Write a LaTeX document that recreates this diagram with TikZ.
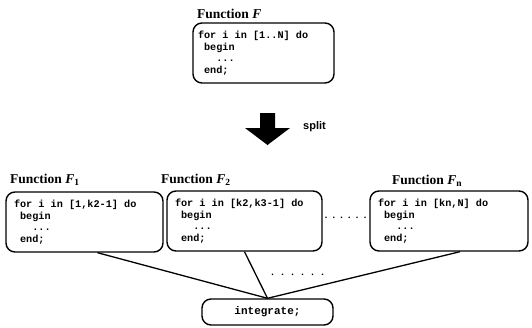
\documentclass[tikz,border=0pt]{standalone}
\usepackage{fontspec}
\setmainfont{Liberation Serif}
\setsansfont{Liberation Sans}
\setmonofont{Liberation Mono}
\usetikzlibrary{positioning}
\tikzset{
  codebox/.style={draw, line width=1.4pt, rounded corners=9pt, text width=#1, minimum height=60pt, inner xsep=8pt, align=left, font=\ttfamily\bfseries\fontsize{10.2}{11.5}\selectfont},
  funcname/.style={anchor=base west, inner sep=0pt, font=\bfseries\fontsize{13.5}{15}\selectfont},
  joinbox/.style={draw, line width=1.4pt, rounded corners=9pt, minimum width=131pt, minimum height=26pt, font=\ttfamily\bfseries\fontsize{11}{13}\selectfont},
  link/.style={line width=1.3pt},
  gap/.style={inner sep=0pt, font=\bfseries\fontsize{10}{12}\selectfont}
}
\newcommand{\tsp}{\phantom{x}}
\newcommand{\dotrow}[1]{.\foreach \k in {1,...,5}{\hspace{#1}.}}

\begin{document}
\begin{tikzpicture}[x=1pt,y=-1pt]
  \useasboundingbox (0,0) rectangle (532,327);
  % original function
  \node[funcname] (titleF) at (197,18) {Function \textit{F}};
  \node[codebox=131pt, inner xsep=5pt] (F) at (263.5,53) {for\tsp i\tsp in\tsp [1..N]\tsp do\\ \tsp begin\\ \tsp\tsp\tsp ...\\ \tsp end;};
  % split arrow
  \coordinate (splitarrow) at (267.5,113);
  \fill (splitarrow) ++(-7.5,0) -- ++(15,0) -- ++(0,15) -- ++(15,0) -- ++(-22.5,17) -- ++(-22.5,-17) -- ++(15,0) -- cycle;
  \node[anchor=west, inner sep=0pt, font=\sffamily\bfseries\fontsize{11}{13}\selectfont] (split) at (303,127) {split};
  % split functions
  \node[funcname] (titleF1) at (10,183) {Function \textit{F}\textsubscript{1}};
  \node[funcname] (titleF2) at (161,183) {Function \textit{F}\textsubscript{2}};
  \node[funcname] (titleFn) at (392,184) {Function \textit{F}\textsubscript{n}};
  \node[codebox=141pt] (F1) at (84.5,222) {for\tsp i\tsp in\tsp [1,k2-1]\tsp do\\ \tsp begin\\ \tsp\tsp\tsp ...\\ \tsp end;};
  \node[codebox=139pt] (F2) at (244.5,221) {for\tsp i\tsp in\tsp [k2,k3-1]\tsp do\\ \tsp begin\\ \tsp\tsp\tsp ...\\ \tsp end;};
  \node[codebox=142pt] (Fn) at (449,221) {for\tsp i\tsp in\tsp [kn,N]\tsp do\\ \tsp begin\\ \tsp\tsp\tsp ...\\ \tsp end;};
  \node[gap] (moreF) at (345.5,218) {\dotrow{5.3pt}};
  % integration
  \node[joinbox] (integrate) at (267.5,312) {integrate;};
  \draw[link] ([xshift=13pt]F1.south) -- (integrate.north);
  \draw[link] (F2.south) -- (integrate.north);
  \draw[link] ([xshift=11pt]Fn.south) -- (integrate.north);
  \node[gap] (morelinks) at (297.5,275) {\dotrow{7.5pt}};
\end{tikzpicture}
\end{document}
